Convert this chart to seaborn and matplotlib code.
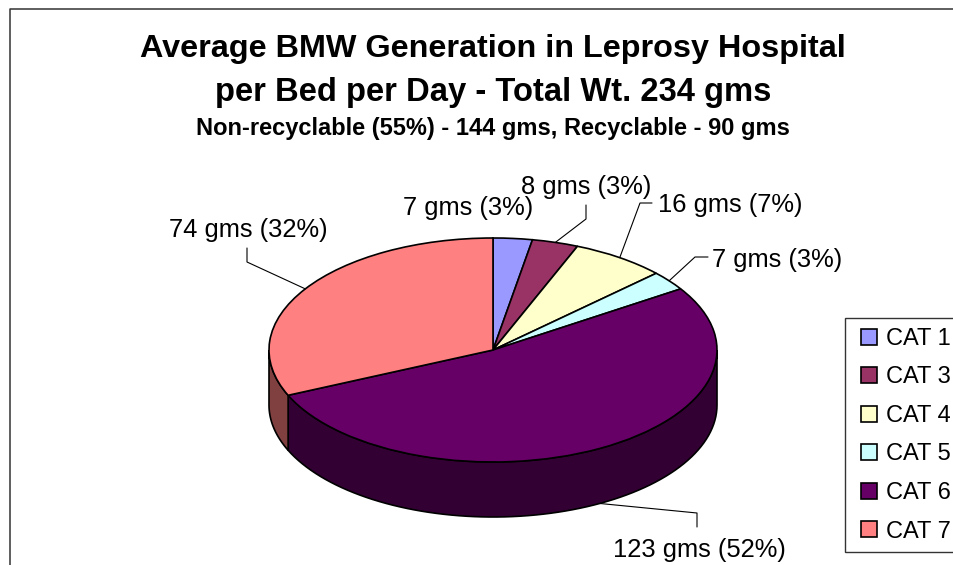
import numpy as np
import pandas as pd
import seaborn as sns
import matplotlib.pyplot as plt
from matplotlib.legend_handler import HandlerPatch
from matplotlib.patches import Wedge

# data (labels show the rounded weights, slices the finer reading)
categories = ['CAT 1', 'CAT 3', 'CAT 4', 'CAT 5', 'CAT 6', 'CAT 7']
weights = [6.6, 7.8, 16, 6.6, 123, 74]
percents = [3, 3, 7, 3, 52, 32]
top_colors = ['#9999FF', '#993366', '#FFFFCC', '#CCFFFF', '#660066', '#FF8080']
wall_colors = ['#4D4D80', '#4D1A33', '#808066', '#668080', '#330033', '#804040']
title_lines = ['Average BMW Generation in Leprosy Hospital', 'per Bed per Day - Total Wt. 234 gms']
subtitle = 'Non-recyclable (55%) - 144 gms, Recyclable - 90 gms'

df = pd.DataFrame({'cat': categories, 'wt': weights, 'pct': percents})
df['label'] = df.wt.round().astype(int).astype(str) + ' gms (' + df.pct.astype(str) + '%)'

# layout in image pixels
W, H = 954, 565
CX, CY, RX, RY, DEPTH = 493, 350, 224, 112, 55

sns.set_theme(style='white')
plt.rcParams['font.family'] = ['Liberation Sans', 'DejaVu Sans']

fig = plt.figure(figsize=(W / 100, H / 100), dpi=100, facecolor='white')
ax = fig.add_axes([0, 0, 1, 1])


def px(x, y):
    # image pixel -> pie data coords
    return (x - CX) / RX, (CY - y) / RY


wedges, _ = ax.pie(df.wt, colors=top_colors, startangle=90, counterclock=False,
                   wedgeprops={'edgecolor': 'black', 'linewidth': 1.2, 'zorder': 3})
ax.set_aspect('auto')
ax.set_xlim(px(0, 0)[0], px(W, 0)[0])
ax.set_ylim(px(0, H)[1], px(0, 0)[1])
ax.set_axis_off()

# side wall of the disc, only the front half shows
depth = DEPTH / RY
for w, col in zip(wedges, wall_colors):
    t1 = max(w.theta1, -180)
    t2 = min(w.theta2, 0)
    if t1 >= t2:
        continue
    t = np.radians(np.linspace(t1, t2, 80))
    xs = np.r_[np.cos(t), np.cos(t)[::-1]]
    ys = np.r_[np.sin(t), np.sin(t)[::-1] - depth]
    ax.fill(xs, ys, facecolor=col, edgecolor='black', linewidth=1.2, zorder=2)

# chart frame, runs off the image right and bottom
ax.plot(*zip(px(10, H + 5), px(10, 9), px(W + 5, 9)), color='#333333', lw=1.1, clip_on=False)

# titles
ax.text(*px(493, 49), title_lines[0], ha='center', va='center', fontsize=23.3, fontweight='bold', color='black')
ax.text(*px(493, 92), title_lines[1], ha='center', va='center', fontsize=23.6, fontweight='bold', color='black')
ax.text(*px(493, 128), subtitle, ha='center', va='center', fontsize=17, fontweight='bold', color='black')

# data labels: text centre, then elbow and end of the leader
label_pos = [(468, 208), (586, 187), (730, 205), (777, 260), (699.5, 550), (248, 230)]
leaders = [None, [(586, 219), (586, 205)], [(640, 203), (652, 203)], [(695, 257), (708, 257)],
           [(697, 513), (697, 527)], [(247, 262), (247, 248)]]
for w, lab, pos, lead in zip(wedges, df.label, label_pos, leaders):
    ax.text(*px(*pos), lab, ha='center', va='center', fontsize=18.4, color='black', zorder=5)
    if lead is None:
        continue
    mid = np.radians((w.theta1 + w.theta2) / 2)
    x0, y0 = np.cos(mid), np.sin(mid)
    if y0 < 0:
        y0 -= depth
    pts = [(x0, y0)] + [px(*p) for p in lead]
    ax.plot(*zip(*pts), color='black', lw=0.8, zorder=4)

leg = ax.legend(wedges, categories, loc='upper left', bbox_to_anchor=(845 / W, 1 - 318 / H),
                bbox_transform=fig.transFigure, borderaxespad=0, fontsize=17,
                fancybox=False, framealpha=1, edgecolor='#333333', labelspacing=0.7,
                handlelength=0.94, handleheight=0.68, handletextpad=0.36, borderpad=0.42, labelcolor='black',
                handler_map={Wedge: HandlerPatch(xpad=0.26)})
leg.get_frame().set_linewidth(1.0)

plt.savefig('out.png', dpi=100)
